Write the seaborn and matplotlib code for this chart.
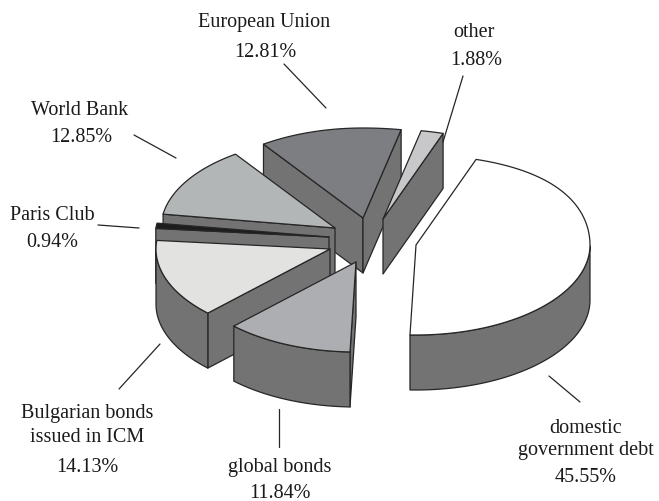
import numpy as np
import seaborn as sns
import matplotlib.pyplot as plt
from matplotlib.patches import Polygon

sns.set_theme(style="white")
plt.rcParams['font.family'] = ['Liberation Serif', 'DejaVu Serif']

# clockwise from the top of the domestic debt slice
slices = ['domestic government debt', 'global bonds', 'Bulgarian bonds issued in ICM',
          'Paris Club', 'World Bank', 'European Union', 'other']
shares = [45.55, 11.84, 14.13, 0.94, 12.85, 12.81, 1.88]

top_colors = sns.color_palette(['#ffffff', '#adaeb2', '#e2e2e0', '#1c1d1f', '#b3b6b7', '#7d7e82', '#c8c8ca'])
side_color = '#727372'
edge_color = '#262626'

# where each exploded slice has its tip, in pixels
tips = [(416, 246), (356, 263), (330, 250), (329, 238), (335, 229), (363, 219), (383, 220)]
draw_order = [5, 6, 4, 3, 2, 1, 0]

start_angle = 72
rx, ry = 174, 90
depth = 55


def rim_point(tip, angle):
    a = np.radians(angle)
    dx = rx * np.cos(a)
    dy = ry * np.sin(a)
    # the source chart's perspective pulls the upper right a bit outwards
    if dx > 0 and dy > 0:
        dx *= 1 + 0.13 * np.sin(a) ** 2
    return tip[0] + dx, tip[1] - dy


def draw_face(ax, points, color):
    ax.add_patch(Polygon(points, closed=True, facecolor=color, edgecolor=edge_color,
                         linewidth=0.9, joinstyle='round'))


def draw_slice(ax, tip, a0, a1, color):
    angles = np.linspace(a0, a1, 80)
    arc = [rim_point(tip, a) for a in angles]

    # cut faces, only the ones turned to the viewer
    if np.cos(np.radians(a0)) < 0:
        p = arc[0]
        draw_face(ax, [tip, p, (p[0], p[1] + depth), (tip[0], tip[1] + depth)], side_color)
    if np.cos(np.radians(a1)) > 0:
        p = arc[-1]
        draw_face(ax, [tip, p, (p[0], p[1] + depth), (tip[0], tip[1] + depth)], side_color)

    # outer wall on the front half
    front = [p for p, a in zip(arc, angles) if np.sin(np.radians(a)) <= 0]
    if len(front) > 1:
        low = [(x, y + depth) for x, y in front]
        draw_face(ax, front + low[::-1], side_color)

    draw_face(ax, [tip] + arc, color)


fig = plt.figure(figsize=(6.59, 5.02), dpi=100)
ax = fig.add_axes([0, 0, 1, 1])
ax.set_xlim(0, 659)
ax.set_ylim(502, 0)
ax.axis('off')

sweeps = np.array(shares) / sum(shares) * 360
ends = start_angle - np.cumsum(sweeps)
starts = ends + sweeps
for i in draw_order:
    draw_slice(ax, tips[i], starts[i], ends[i], top_colors[i])

leaders = [((549, 377), (580, 403)), ((279, 410), (279, 448)), ((160, 345), (119, 390)),
           ((139, 229), (98, 226)), ((176, 159), (134, 136)), ((326, 109), (284, 65)),
           ((443, 143), (463, 77))]
for a, b in leaders:
    ax.plot([a[0], b[0]], [a[1], b[1]], color=edge_color, lw=0.9)

labels = [('European Union', 264, 27), ('12.81%', 265, 57),
          ('other', 474, 37), ('1.88%', 476, 65),
          ('World Bank', 80, 115), ('12.85%', 81, 142),
          ('Paris Club', 52, 220), ('0.94%', 52, 247),
          ('Bulgarian bonds', 87, 418), ('issued in ICM', 87, 442), ('14.13%', 87, 472),
          ('global bonds', 280, 472), ('11.84%', 280, 498),
          ('domestic', 586, 433), ('government debt', 586, 455), ('45.55%', 586, 482)]
for text, x, y in labels:
    ax.text(x, y, text, ha='center', va='baseline', fontsize=14.5, color='#1a1a1a')

fig.savefig('out.png', dpi=100)
